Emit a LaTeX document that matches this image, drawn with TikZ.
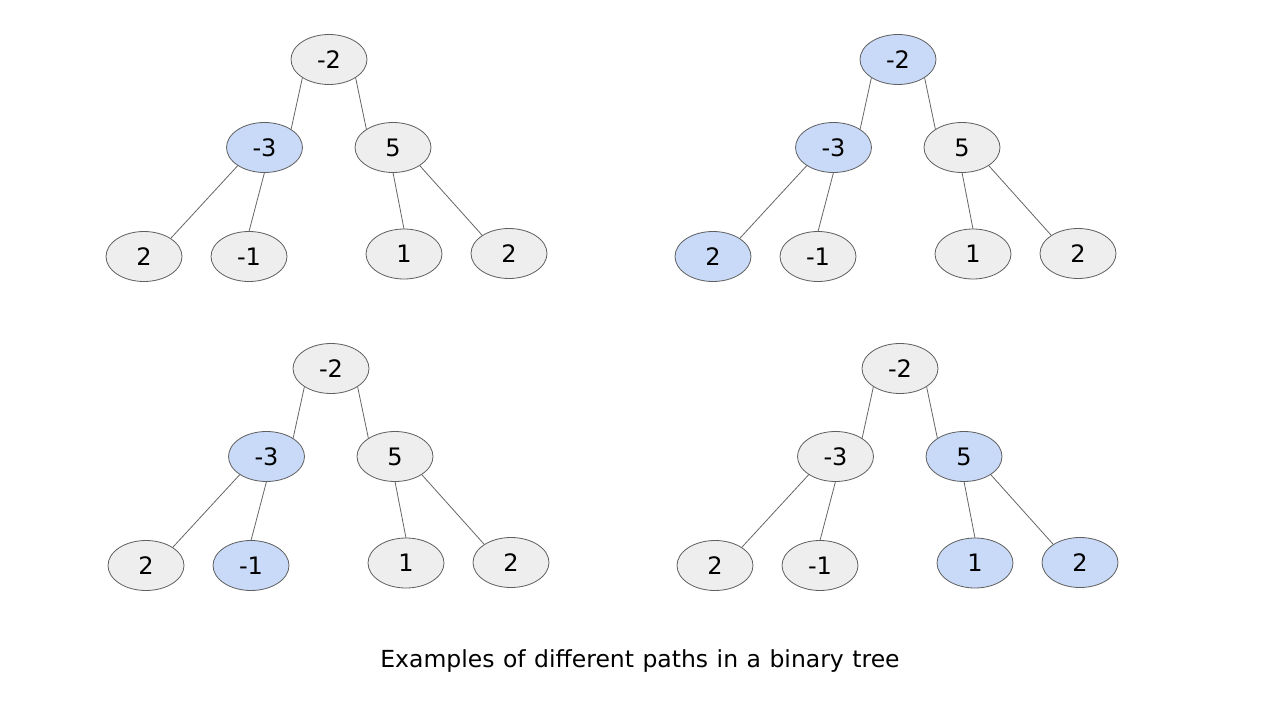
\documentclass[tikz,border=0pt]{standalone}
\usepackage{fontspec}
\setmainfont{DejaVu Sans}
\usetikzlibrary{shapes.geometric}
\definecolor{nodegray}{HTML}{EEEEEE}
\definecolor{nodeblue}{HTML}{C9DAF8}
\definecolor{strokegray}{HTML}{5F5F5F}
\definecolor{edgegray}{HTML}{666666}
\tikzset{
  nd/.style={ellipse, draw=strokegray, line width=0.8pt, minimum width=76pt, minimum height=50pt, inner sep=0pt, outer sep=0pt, font=\fontsize{24}{28}\selectfont},
  gy/.style={fill=nodegray},
  bl/.style={fill=nodeblue},
  edge/.style={draw=edgegray, line width=0.8pt},
}
\newcommand\btree[9]{%
\begin{scope}[shift={#1}]
\node[nd,#3] (#2r) at (329,59.5) {-2};
\node[nd,#4] (#2a) at (264.5,147.5) {-3};
\node[nd,#5] (#2b) at (393,147.5) {5};
\node[nd,#6] (#2c) at (144,256.5) {2};
\node[nd,#7] (#2d) at (249,256.5) {-1};
\node[nd,#8] (#2e) at (404,254) {1};
\node[nd,#9] (#2f) at (509,253.5) {2};
\draw[edge] (#2r.214) -- (#2a.34);
\draw[edge] (#2r.326) -- (#2b.146);
\draw[edge] (#2a.214) -- (#2c.34);
\draw[edge] (#2a.south) -- (#2d.north);
\draw[edge] (#2b.south) -- (#2e.north);
\draw[edge] (#2b.326) -- (#2f.146);
\end{scope}}
\begin{document}
\begin{tikzpicture}[x=1pt,y=-1pt]
\useasboundingbox[fill=white] (0,0) rectangle (1280,720);
\btree{(0,0)}{A}{gy}{bl}{gy}{gy}{gy}{gy}{gy}
\btree{(569,0)}{B}{bl}{bl}{gy}{bl}{gy}{gy}{gy}
\btree{(2,309)}{C}{gy}{bl}{gy}{gy}{bl}{gy}{gy}
\btree{(571,309)}{D}{gy}{gy}{bl}{gy}{gy}{bl}{bl}
\node[font=\fontsize{23.5}{28}\selectfont, inner sep=0pt, anchor=base] (cap) at (640,667) {\spaceskip=8.5pt plus 1pt Examples of different paths in a binary tree};
\end{tikzpicture}
\end{document}
